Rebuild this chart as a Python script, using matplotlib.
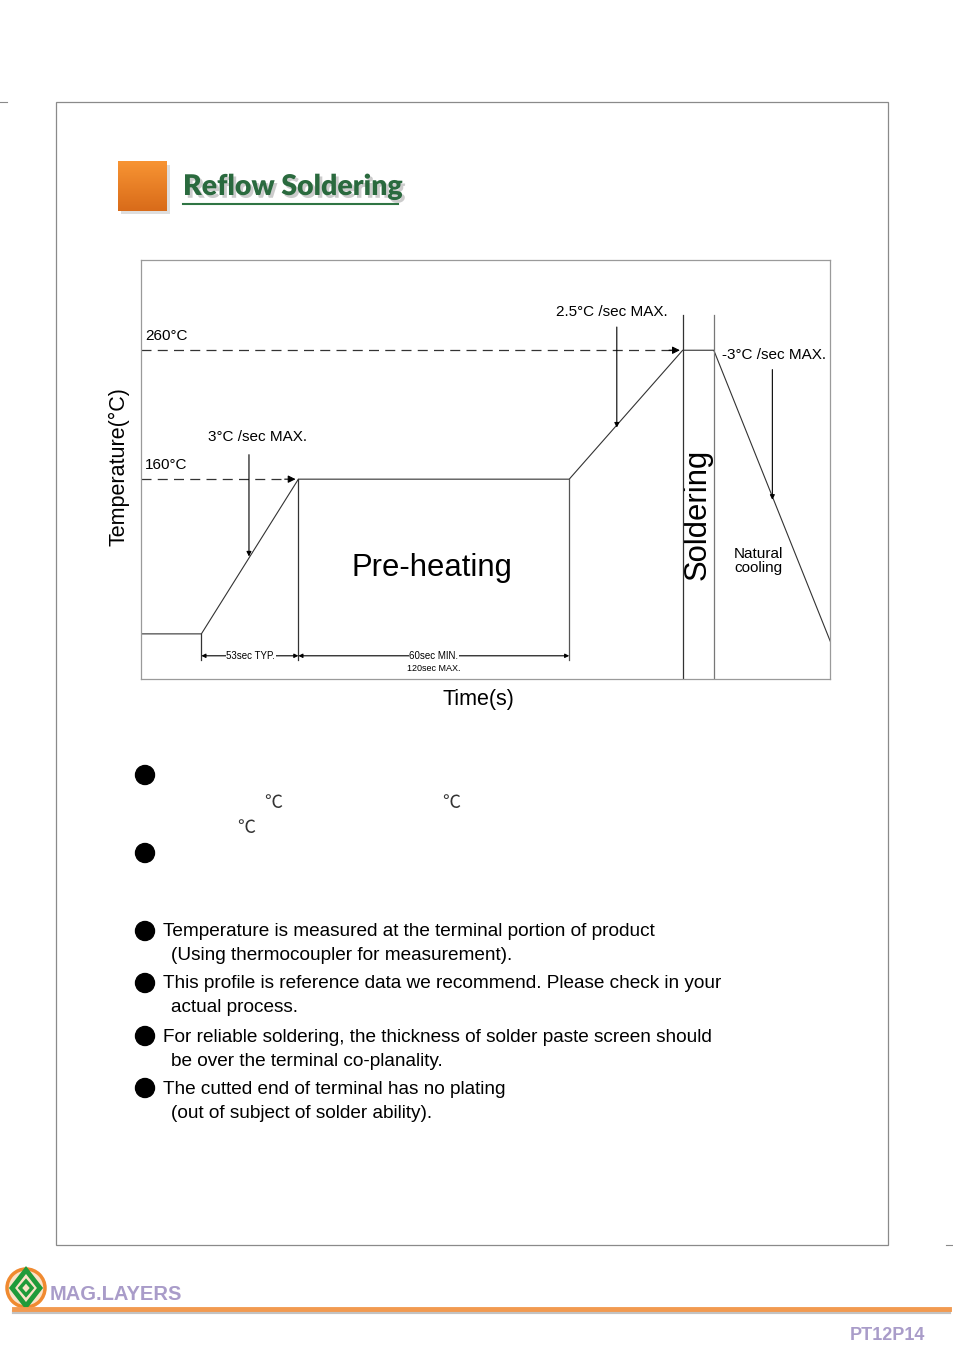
"""Reflow soldering profile page."""
import matplotlib.pyplot as plt
import matplotlib.patheffects as pe
import numpy as np
from matplotlib.patches import Circle, Polygon, Rectangle

plt.rcParams["font.family"] = ["Liberation Sans", "DejaVu Sans"]

# --- profile data (time in arbitrary seconds, temperature in degC) ---
profile_time = [0, 33, 86, 234, 296, 313, 377]
profile_temp = [40, 40, 160, 160, 260, 260, 33]
peak_temp = 260
soak_temp = 160
soldering_window = [296, 313]          # start / end of soldering zone
rate_arrows_x = [59, 260, 345]         # vertical pointer lines
rate_arrows_top = [179, 278, 245]
rate_arrows_bot = [100, 200, 144]
rate_labels = ["3°C /sec MAX.", "2.5°C /sec MAX.", "-3°C /sec MAX."]
dim_edges = [33, 86, 234]              # dimension line breaks
dim_level = 23

notes = [
    ("Temperature is measured at the terminal portion of product",
     "(Using thermocoupler for measurement)."),
    ("This profile is reference data we recommend. Please check in your",
     "actual process."),
    ("For reliable soldering, the thickness of solder paste screen should",
     "be over the terminal co-planality."),
    ("The cutted end of terminal has no plating",
     "(out of subject of solder ability)."),
]

W, H = 954, 1351
fig = plt.figure(figsize=(W / 100, H / 100), dpi=100)
pg = fig.add_axes([0, 0, 1, 1])
pg.set_xlim(0, W)
pg.set_ylim(H, 0)
pg.axis("off")

# page frame
pg.add_patch(Rectangle((56, 102), 832, 1143, fill=False, ec="#8a8a8a", lw=0.9))
pg.plot([0, 7], [102, 102], color="#8a8a8a", lw=0.8)
pg.plot([946, 954], [1245, 1245], color="#8a8a8a", lw=0.8)

# heading block
pg.add_patch(Rectangle((121, 165), 49, 49, fc="#c8c8c8", ec="none", alpha=0.6))
grad = np.linspace(0, 1, 64).reshape(-1, 1)
top_c = np.array([0.97, 0.58, 0.20])
bot_c = np.array([0.85, 0.42, 0.10])
img = top_c * (1 - grad[..., None]) + bot_c * grad[..., None]
pg.imshow(img, extent=(118, 167, 211, 161), aspect="auto", zorder=2)
pg.text(183, 187, "Reflow Soldering", fontsize=20.5, fontweight="heavy",
        family="Lato", color="#2a6a3e", va="center", ha="left",
        path_effects=[pe.withSimplePatchShadow(offset=(2, -2), shadow_rgbFace="#9a9a9a", alpha=0.5)])
pg.plot([183, 398], [204, 204], color="#2f7544", lw=1.5)

# --- profile chart ---
x0, x1, y0, y1 = 141, 830, 260, 679
ax = fig.add_axes([x0 / W, 1 - y1 / H, (x1 - x0) / W, (y1 - y0) / H])
ax.patch.set_visible(False)
ax.set_xlim(0, 376.5)
ax.set_ylim(5, 330)
ax.set_xticks([])
ax.set_yticks([])
for s in ax.spines.values():
    s.set_color("#9a9a9a")
    s.set_linewidth(0.9)

ax.plot(profile_time, profile_temp, color="#333333", lw=0.8)

# reference dashed levels with arrow heads
for lvl, xe in [(peak_temp, soldering_window[0]), (soak_temp, profile_time[2])]:
    ax.plot([0, xe - 6], [lvl, lvl], color="#333333", lw=0.9, ls=(0, (8, 5)))
    ax.annotate("", xy=(xe, lvl), xytext=(xe - 9, lvl),
                arrowprops=dict(arrowstyle="-|>", color="black", lw=0.8, mutation_scale=11))

# soldering zone
ax.plot([soldering_window[0]] * 2, [5, 287], color="#333333", lw=0.9)
ax.plot([soldering_window[1]] * 2, [5, 287], color="#777777", lw=0.9)

# rate pointers
for xa, yt, yb in zip(rate_arrows_x, rate_arrows_top, rate_arrows_bot):
    ax.annotate("", xy=(xa, yb), xytext=(xa, yt),
                arrowprops=dict(arrowstyle="-|>", color="black", lw=0.8,
                                mutation_scale=7, shrinkA=0, shrinkB=0))

# vertical extension lines
ax.plot([dim_edges[0]] * 2, [20, 40], color="#333333", lw=0.9)
ax.plot([dim_edges[1]] * 2, [20, soak_temp], color="#333333", lw=0.9)
ax.plot([dim_edges[2]] * 2, [20, soak_temp], color="#555555", lw=0.9)

# dimension lines
for a, b in [(dim_edges[0], dim_edges[1]), (dim_edges[1], dim_edges[2])]:
    ax.annotate("", xy=(a, dim_level), xytext=(b, dim_level),
                arrowprops=dict(arrowstyle="<|-|>", color="black", lw=0.8,
                                mutation_scale=6, shrinkA=0, shrinkB=0))
ax.text(60, dim_level, "53sec TYP.", fontsize=7, ha="center", va="center",
        bbox=dict(fc="white", ec="none", pad=0.5))
ax.text(160, dim_level, "60sec MIN.", fontsize=7, ha="center", va="center",
        bbox=dict(fc="white", ec="none", pad=0.5))
ax.text(160, dim_level - 6, "120sec MAX.", fontsize=6.5, ha="center", va="top")

# chart texts (page pixel coords)
pg.text(145, 336, f"{peak_temp}°C", fontsize=11, va="center")
pg.text(145, 465, f"{soak_temp}°C", fontsize=11, va="center")
pg.text(208, 437, rate_labels[0], fontsize=11, va="center")
pg.text(556, 312, rate_labels[1], fontsize=11, va="center")
pg.text(722, 355, rate_labels[2], fontsize=11, va="center")
pg.text(432, 568, "Pre-heating", fontsize=22.3, ha="center", va="center")
pg.text(698, 514, "Soldering", fontsize=22.3, rotation=90, ha="center", va="center")
pg.text(734, 561, "Natural\ncooling", fontsize=11, ha="left", va="center",
        linespacing=1.05)
pg.text(119, 467, "Temperature(°C)", fontsize=15.5, rotation=90, ha="center", va="center")
pg.text(478, 699, "Time(s)", fontsize=15.5, ha="center", va="center")

# notes
for yb in [775, 853]:
    pg.add_patch(Circle((145, yb), 9.5, color="black"))
for (xc, yc) in [(273, 803), (451, 803), (246, 828)]:
    pg.text(xc, yc, "℃", fontsize=13, ha="center", va="center",
            family=["Noto Sans CJK SC", "DejaVu Sans"], fontweight="light",
            color="#333333")

note_y = [931, 983, 1036, 1088]
for yb, (l1, l2) in zip(note_y, notes):
    pg.add_patch(Circle((145, yb), 9.5, color="black"))
    pg.text(163, yb + 1, l1, fontsize=13.7, va="center")
    pg.text(171, yb + 25, l2, fontsize=13.7, va="center")

# footer
pg.add_patch(Circle((26, 1288), 19, fc="#fbe3c8", ec="#f08a30", lw=2.5))
pg.add_patch(Polygon([(26, 1270), (40, 1288), (26, 1306), (12, 1288)],
                     closed=True, fc="none", ec="#1f9b3a", lw=3.5))
pg.add_patch(Polygon([(26, 1281), (32, 1288), (26, 1295), (20, 1288)],
                     closed=True, fc="none", ec="#1f9b3a", lw=2.5))
pg.text(50, 1294, "MAG.LAYERS", fontsize=14.5, fontweight="bold", color="#a99cc9",
        va="center", ha="left")
pg.plot([14, 949], [1312, 1312], color="#aaaaaa", lw=3, alpha=0.7)
pg.plot([14, 949], [1309, 1309], color="#f29a50", lw=3.5)
pg.text(925, 1335, "PT12P14", fontsize=13, fontweight="bold", color="#a99cc9",
        va="center", ha="right")

fig.savefig("out.png", dpi=100)
